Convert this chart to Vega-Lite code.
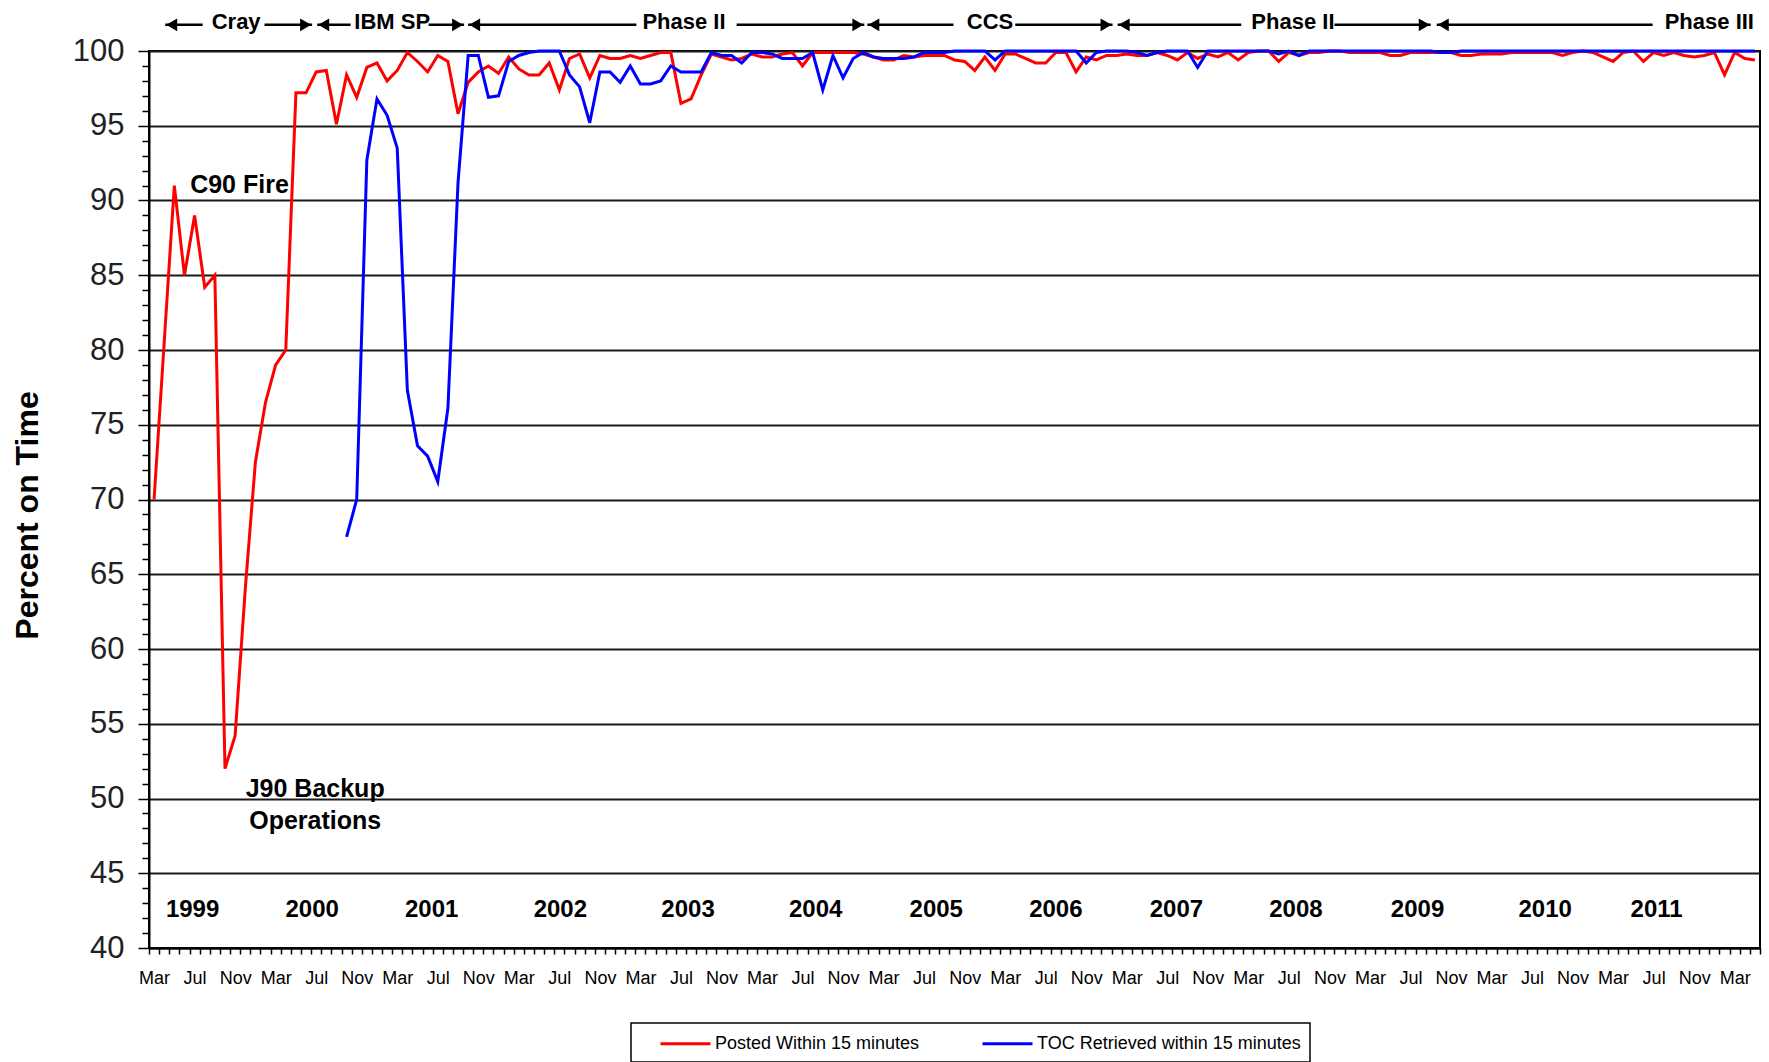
{
  "$schema": "https://vega.github.io/schema/vega-lite/v6.json",
  "width": 1611,
  "height": 897,
  "autosize": "none",
  "padding": {"left": 149, "top": 51, "right": 9, "bottom": 114},
  "background": "white",
  "config": {
    "font": "Liberation Sans",
    "view": {"stroke": "black", "strokeWidth": 2},
    "legend": {"strokeWidth": 1.5}
  },
  "resolve": {"axis": {"x": "independent", "y": "independent"}},
  "datasets": {
    "monthly": [
      {"m":0,"posted":70},{"m":1,"posted":80.5},{"m":2,"posted":91},{"m":3,"posted":85},{"m":4,"posted":89},{"m":5,"posted":84.2},{"m":6,"posted":85},{"m":7,"posted":52},{"m":8,"posted":54.2},{"m":9,"posted":64},
      {"m":10,"posted":72.5},{"m":11,"posted":76.5},{"m":12,"posted":79},{"m":13,"posted":80},{"m":14,"posted":97.2},{"m":15,"posted":97.2},{"m":16,"posted":98.6},{"m":17,"posted":98.7},{"m":18,"posted":95.1},
      {"m":19,"posted":98.4,"toc":67.5},{"m":20,"posted":96.9,"toc":70},{"m":21,"posted":98.9,"toc":92.7},{"m":22,"posted":99.2,"toc":96.8},{"m":23,"posted":98,"toc":95.7},{"m":24,"posted":98.7,"toc":93.5},
      {"m":25,"posted":99.9,"toc":77.3},{"m":26,"posted":99.3,"toc":73.6},{"m":27,"posted":98.6,"toc":72.9},{"m":28,"posted":99.7,"toc":71.2},{"m":29,"posted":99.3,"toc":76.1},{"m":30,"posted":95.8,"toc":91.2},
      {"m":31,"posted":97.9,"toc":99.7},{"m":32,"posted":98.6,"toc":99.7},{"m":33,"posted":99,"toc":96.9},{"m":34,"posted":98.5,"toc":97},{"m":35,"posted":99.6,"toc":99.3},{"m":36,"posted":98.8,"toc":99.7},
      {"m":37,"posted":98.4,"toc":99.9},{"m":38,"posted":98.4,"toc":100},{"m":39,"posted":99.2,"toc":100},{"m":40,"posted":97.4,"toc":100},{"m":41,"posted":99.5,"toc":98.4},{"m":42,"posted":99.8,"toc":97.6},
      {"m":43,"posted":98.2,"toc":95.2},{"m":44,"posted":99.7,"toc":98.6},{"m":45,"posted":99.5,"toc":98.6},{"m":46,"posted":99.5,"toc":97.9},{"m":47,"posted":99.7,"toc":99},{"m":48,"posted":99.5,"toc":97.8},
      {"m":49,"posted":99.7,"toc":97.8},{"m":50,"posted":99.9,"toc":98},{"m":51,"posted":99.9,"toc":99},{"m":52,"posted":96.5,"toc":98.6},{"m":53,"posted":96.8,"toc":98.6},{"m":54,"posted":98.4,"toc":98.6},
      {"m":55,"posted":99.8,"toc":99.9},{"m":56,"posted":99.6,"toc":99.7},{"m":57,"posted":99.4,"toc":99.7},{"m":58,"posted":99.5,"toc":99.2},{"m":59,"posted":99.8,"toc":99.9},{"m":60,"posted":99.6,"toc":99.9},
      {"m":61,"posted":99.6,"toc":99.8},{"m":62,"posted":99.8,"toc":99.5},{"m":63,"posted":99.9,"toc":99.5},{"m":64,"posted":99,"toc":99.5},{"m":65,"posted":99.9,"toc":99.9},{"m":66,"posted":99.9,"toc":97.4},
      {"m":67,"posted":99.9,"toc":99.7},{"m":68,"posted":99.9,"toc":98.2},{"m":69,"posted":99.9,"toc":99.5},{"m":70,"posted":99.8,"toc":99.9},{"m":71,"posted":99.6,"toc":99.6},{"m":72,"posted":99.4,"toc":99.5},
      {"m":73,"posted":99.4,"toc":99.5},{"m":74,"posted":99.7,"toc":99.5},{"m":75,"posted":99.6,"toc":99.6},{"m":76,"posted":99.7,"toc":99.9},{"m":77,"posted":99.7,"toc":99.9},{"m":78,"posted":99.7,"toc":99.9},
      {"m":79,"posted":99.4,"toc":100},{"m":80,"posted":99.3,"toc":100},{"m":81,"posted":98.7,"toc":100},{"m":82,"posted":99.6,"toc":100},{"m":83,"posted":98.7,"toc":99.4},{"m":84,"posted":99.8,"toc":100},
      {"m":85,"posted":99.8,"toc":100},{"m":86,"posted":99.5,"toc":100},{"m":87,"posted":99.2,"toc":100},{"m":88,"posted":99.2,"toc":100},{"m":89,"posted":99.9,"toc":100},{"m":90,"posted":99.9,"toc":100},
      {"m":91,"posted":98.6,"toc":100},{"m":92,"posted":99.6,"toc":99.2},{"m":93,"posted":99.4,"toc":99.9},{"m":94,"posted":99.7,"toc":100},{"m":95,"posted":99.7,"toc":100},{"m":96,"posted":99.8,"toc":100},
      {"m":97,"posted":99.7,"toc":99.9},{"m":98,"posted":99.7,"toc":99.7},{"m":99,"posted":99.9,"toc":99.9},{"m":100,"posted":99.7,"toc":100},{"m":101,"posted":99.4,"toc":100},{"m":102,"posted":99.9,"toc":100},
      {"m":103,"posted":99.5,"toc":98.9},{"m":104,"posted":99.8,"toc":100},{"m":105,"posted":99.6,"toc":100},{"m":106,"posted":99.9,"toc":100},{"m":107,"posted":99.4,"toc":100},{"m":108,"posted":99.9,"toc":100},
      {"m":109,"posted":100,"toc":100},{"m":110,"posted":100,"toc":100},{"m":111,"posted":99.3,"toc":99.8},{"m":112,"posted":99.9,"toc":100},{"m":113,"posted":99.7,"toc":99.7},{"m":114,"posted":99.9,"toc":100},
      {"m":115,"posted":99.9,"toc":100},{"m":116,"posted":100,"toc":100},{"m":117,"posted":100,"toc":100},{"m":118,"posted":99.9,"toc":100},{"m":119,"posted":99.9,"toc":100},{"m":120,"posted":99.9,"toc":100},
      {"m":121,"posted":99.9,"toc":100},{"m":122,"posted":99.7,"toc":100},{"m":123,"posted":99.7,"toc":100},{"m":124,"posted":99.9,"toc":100},{"m":125,"posted":99.9,"toc":100},{"m":126,"posted":99.9,"toc":100},
      {"m":127,"posted":99.9,"toc":99.9},{"m":128,"posted":99.9,"toc":99.9},{"m":129,"posted":99.7,"toc":100},{"m":130,"posted":99.7,"toc":100},{"m":131,"posted":99.8,"toc":100},{"m":132,"posted":99.8,"toc":100},
      {"m":133,"posted":99.8,"toc":100},{"m":134,"posted":99.9,"toc":100},{"m":135,"posted":99.9,"toc":100},{"m":136,"posted":99.9,"toc":100},{"m":137,"posted":99.9,"toc":100},{"m":138,"posted":99.9,"toc":100},
      {"m":139,"posted":99.7,"toc":100},{"m":140,"posted":99.9,"toc":100},{"m":141,"posted":100,"toc":100},{"m":142,"posted":99.9,"toc":100},{"m":143,"posted":99.6,"toc":100},{"m":144,"posted":99.3,"toc":100},
      {"m":145,"posted":99.9,"toc":100},{"m":146,"posted":100,"toc":100},{"m":147,"posted":99.3,"toc":100},{"m":148,"posted":99.9,"toc":100},{"m":149,"posted":99.7,"toc":100},{"m":150,"posted":99.9,"toc":100},
      {"m":151,"posted":99.7,"toc":100},{"m":152,"posted":99.6,"toc":100},{"m":153,"posted":99.7,"toc":100},{"m":154,"posted":99.9,"toc":100},{"m":155,"posted":98.4,"toc":100},{"m":156,"posted":99.9,"toc":100},
      {"m":157,"posted":99.5,"toc":100},{"m":158,"posted":99.4,"toc":100}
    ],
    "years": [
      {"m":3.8,"year":"1999"},{"m":15.6,"year":"2000"},{"m":27.4,"year":"2001"},{"m":40.1,"year":"2002"},{"m":52.7,"year":"2003"},{"m":65.3,"year":"2004"},{"m":77.2,"year":"2005"},
      {"m":89.0,"year":"2006"},{"m":100.9,"year":"2007"},{"m":112.7,"year":"2008"},{"m":124.7,"year":"2009"},{"m":137.3,"year":"2010"},{"m":148.3,"year":"2011"}
    ],
    "notes": [
      {"m":8.43,"y":90.52,"text":"C90 Fire"},
      {"m":15.9,"y":50.07,"text":"J90 Backup"},
      {"m":15.9,"y":47.95,"text":"Operations"}
    ],
    "segments": [
      {"a":1.1,"b":4.8},{"a":10.9,"b":15.6},{"a":16.1,"b":19.4},{"a":27.1,"b":30.6},{"a":31.0,"b":47.6},{"a":57.5,"b":70.1},
      {"a":70.4,"b":78.9},{"a":85.0,"b":94.6},{"a":95.1,"b":107.3},{"a":116.5,"b":126.0},{"a":126.6,"b":147.9}
    ],
    "leftHeads": [{"m":1.1},{"m":16.1},{"m":31.0},{"m":70.4},{"m":95.1},{"m":126.6}],
    "rightHeads": [{"m":15.6},{"m":30.6},{"m":70.1},{"m":94.6},{"m":126.0}],
    "phases": [
      {"m":8.1,"label":"Cray"},{"m":23.5,"label":"IBM SP"},{"m":52.3,"label":"Phase II"},
      {"m":82.5,"label":"CCS"},{"m":112.4,"label":"Phase II"},{"m":153.5,"label":"Phase III"}
    ]
  },
  "layer": [
    {
      "data": {"name": "monthly"},
      "transform": [{"fold": ["posted", "toc"], "as": ["series", "pct"]}],
      "mark": {"type": "line", "strokeWidth": 3, "interpolate": "linear"},
      "encoding": {
        "x": {
          "field": "m", "type": "quantitative",
          "scale": {"domain": [-0.5, 158.5], "nice": false, "zero": false},
          "axis": {
            "orient": "bottom", "title": null, "grid": false,
            "values": [-0.5,0.5,1.5,2.5,3.5,4.5,5.5,6.5,7.5,8.5,9.5,10.5,11.5,12.5,13.5,14.5,15.5,16.5,17.5,18.5,19.5,20.5,21.5,22.5,23.5,24.5,25.5,26.5,27.5,28.5,29.5,30.5,31.5,32.5,33.5,34.5,35.5,36.5,37.5,38.5,39.5,40.5,41.5,42.5,43.5,44.5,45.5,46.5,47.5,48.5,49.5,50.5,51.5,52.5,53.5,54.5,55.5,56.5,57.5,58.5,59.5,60.5,61.5,62.5,63.5,64.5,65.5,66.5,67.5,68.5,69.5,70.5,71.5,72.5,73.5,74.5,75.5,76.5,77.5,78.5,79.5,80.5,81.5,82.5,83.5,84.5,85.5,86.5,87.5,88.5,89.5,90.5,91.5,92.5,93.5,94.5,95.5,96.5,97.5,98.5,99.5,100.5,101.5,102.5,103.5,104.5,105.5,106.5,107.5,108.5,109.5,110.5,111.5,112.5,113.5,114.5,115.5,116.5,117.5,118.5,119.5,120.5,121.5,122.5,123.5,124.5,125.5,126.5,127.5,128.5,129.5,130.5,131.5,132.5,133.5,134.5,135.5,136.5,137.5,138.5,139.5,140.5,141.5,142.5,143.5,144.5,145.5,146.5,147.5,148.5,149.5,150.5,151.5,152.5,153.5,154.5,155.5,156.5,157.5,158.5],
            "labelExpr": "((datum.value + 0.5) % 4 == 0 && datum.value < 158) ? (((datum.value + 0.5) % 12 == 0) ? 'Mar' : (((datum.value + 0.5) % 12 == 4) ? 'Jul' : 'Nov')) : ''",
            "labelOffset": 5.07,
            "labelFontSize": 18, "labelColor": "black", "labelPadding": 15,
            "labelOverlap": false, "labelFlush": false, "labelBound": false,
            "tickSize": 6, "tickColor": "black", "tickWidth": 1.5,
            "domainColor": "black", "domainWidth": 2
          }
        },
        "y": {
          "field": "pct", "type": "quantitative",
          "scale": {"domain": [40, 100], "nice": false, "zero": false},
          "axis": {
            "orient": "left",
            "title": "Percent on Time", "titleFontSize": 32, "titleFontWeight": "bold", "titleColor": "black", "titlePadding": 28, "titleY": 464,
            "values": [40,45,50,55,60,65,70,75,80,85,90,95,100],
            "format": "d",
            "labelFontSize": 31, "labelColor": "#222222", "labelPadding": 14,
            "labelOverlap": false, "labelFlush": false,
            "grid": true, "gridColor": "#1a1a1a", "gridWidth": 2,
            "tickColor": "black", "tickWidth": 1.5, "tickSize": 11,
            "domainColor": "black", "domainWidth": 2
          }
        },
        "color": {
          "field": "series", "type": "nominal",
          "scale": {"domain": ["posted", "toc"], "range": ["#FF0000", "#0000FF"]},
          "legend": {
            "orient": "none", "legendX": 482, "legendY": 972, "direction": "horizontal",
            "title": " ", "titleOrient": "left", "titleFontSize": 18, "titlePadding": 19,
            "labelExpr": "datum.value == 'posted' ? 'Posted Within 15 minutes' : 'TOC Retrieved within 15 minutes'",
            "labelFontSize": 18, "labelColor": "black", "labelLimit": 400, "labelOffset": 33,
            "symbolType": "M-1,0H4", "symbolSize": 400, "symbolStrokeWidth": 3,
            "columnPadding": 56, "padding": 9,
            "strokeColor": "black", "fillColor": "white"
          }
        }
      }
    },
    {
      "data": {"name": "years"},
      "mark": {"type": "text", "fontSize": 24, "fontWeight": "bold", "align": "center", "baseline": "middle", "color": "black"},
      "encoding": {
        "x": {"field": "m", "type": "quantitative", "scale": {"domain": [-0.5, 158.5], "nice": false, "zero": false}, "axis": null},
        "y": {
          "datum": 42.53, "type": "quantitative", "scale": {"domain": [40, 100], "nice": false, "zero": false},
          "axis": {
            "orient": "left", "title": null, "labels": false, "grid": false, "domain": false,
            "values": [41,42,43,44,46,47,48,49,51,52,53,54,56,57,58,59,61,62,63,64,66,67,68,69,71,72,73,74,76,77,78,79,81,82,83,84,86,87,88,89,91,92,93,94,96,97,98,99],
            "tickColor": "black", "tickWidth": 1.5, "tickSize": 7
          }
        },
        "text": {"field": "year"}
      }
    },
    {
      "data": {"name": "notes"},
      "mark": {"type": "text", "fontSize": 25, "fontWeight": "bold", "align": "center", "baseline": "alphabetic", "color": "black"},
      "encoding": {
        "x": {"field": "m", "type": "quantitative", "scale": {"domain": [-0.5, 158.5], "nice": false, "zero": false}, "axis": null},
        "y": {"field": "y", "type": "quantitative", "scale": {"domain": [40, 100], "nice": false, "zero": false}, "axis": null},
        "text": {"field": "text"}
      }
    },
    {
      "data": {"name": "segments"},
      "mark": {"type": "rule", "stroke": "black", "strokeWidth": 2.5},
      "encoding": {
        "x": {"field": "a", "type": "quantitative", "scale": {"domain": [-0.5, 158.5], "nice": false, "zero": false}, "axis": null},
        "x2": {"field": "b"},
        "y": {"datum": 101.75, "type": "quantitative", "scale": {"domain": [40, 100], "nice": false, "zero": false}, "axis": null}
      }
    },
    {
      "data": {"name": "leftHeads"},
      "mark": {"type": "point", "shape": "triangle-left", "filled": true, "color": "black", "opacity": 1, "size": 160, "xOffset": 6.5},
      "encoding": {
        "x": {"field": "m", "type": "quantitative", "scale": {"domain": [-0.5, 158.5], "nice": false, "zero": false}, "axis": null},
        "y": {"datum": 101.75, "type": "quantitative", "scale": {"domain": [40, 100], "nice": false, "zero": false}, "axis": null}
      }
    },
    {
      "data": {"name": "rightHeads"},
      "mark": {"type": "point", "shape": "triangle-right", "filled": true, "color": "black", "opacity": 1, "size": 160, "xOffset": -6.5},
      "encoding": {
        "x": {"field": "m", "type": "quantitative", "scale": {"domain": [-0.5, 158.5], "nice": false, "zero": false}, "axis": null},
        "y": {"datum": 101.75, "type": "quantitative", "scale": {"domain": [40, 100], "nice": false, "zero": false}, "axis": null}
      }
    },
    {
      "data": {"name": "phases"},
      "mark": {"type": "text", "fontSize": 22, "fontWeight": "bold", "align": "center", "baseline": "alphabetic", "color": "black"},
      "encoding": {
        "x": {"field": "m", "type": "quantitative", "scale": {"domain": [-0.5, 158.5], "nice": false, "zero": false}, "axis": null},
        "y": {"datum": 101.49, "type": "quantitative", "scale": {"domain": [40, 100], "nice": false, "zero": false}, "axis": null},
        "text": {"field": "label"}
      }
    }
  ]
}
